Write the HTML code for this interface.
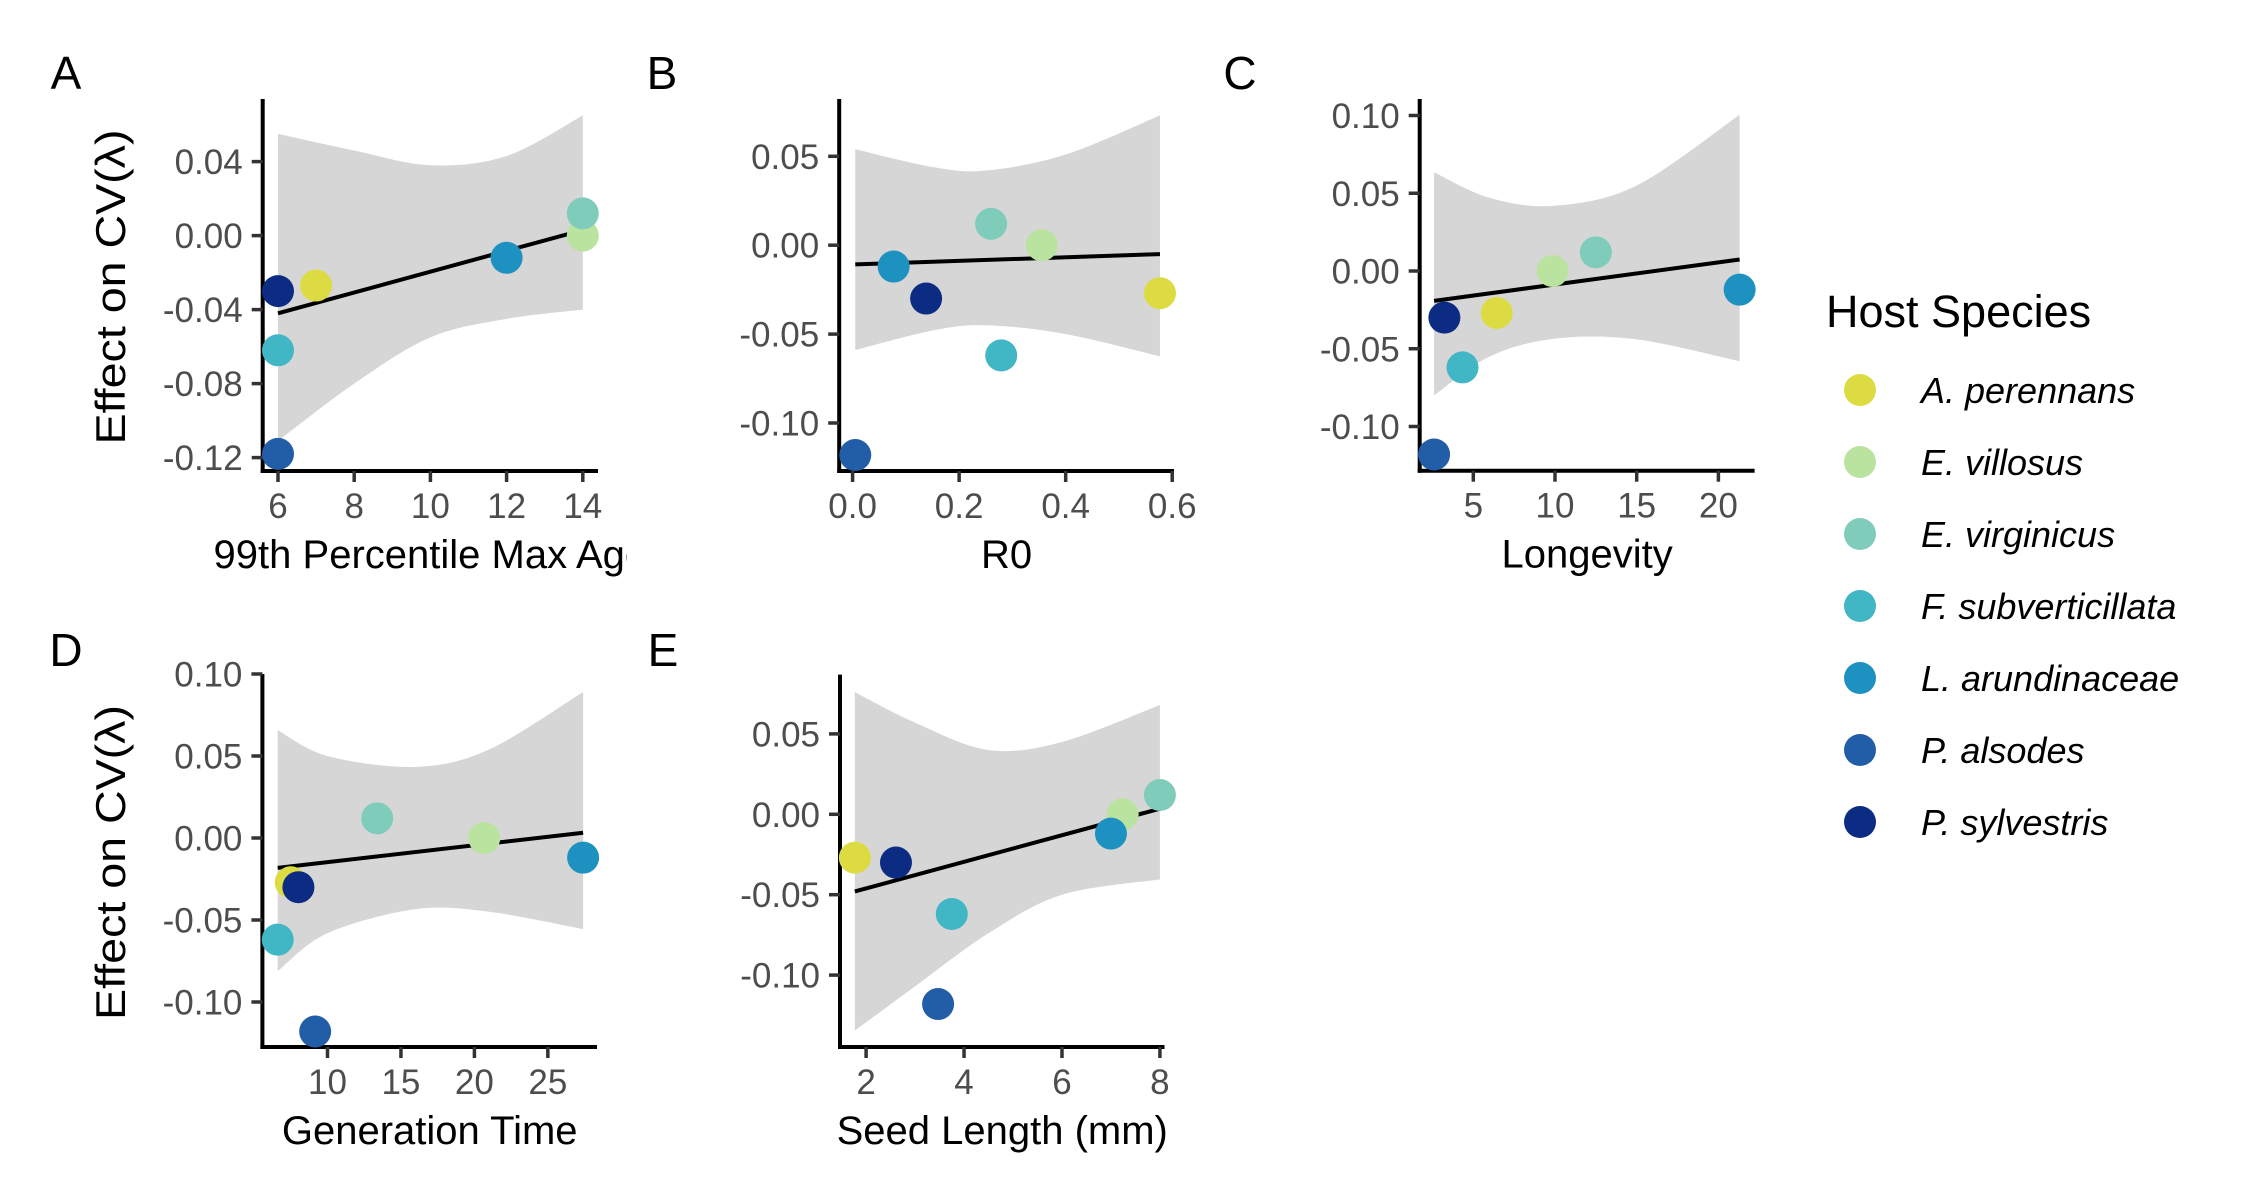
<!DOCTYPE html>
<html><head><meta charset="utf-8"><style>
html,body{margin:0;padding:0;background:#fff;}
svg{display:block;font-family:"Liberation Sans",Arial,sans-serif;}
</style></head><body>
<svg id="fig" xmlns="http://www.w3.org/2000/svg" width="2250" height="1200" viewBox="0 0 2250 1200">
<rect width="2250" height="1200" fill="#fff"/>
<defs><clipPath id="clipA"><rect x="0" y="480" width="627" height="120"/></clipPath></defs>
</svg>
<script>
// ---- shared data ----
const species = ["A. perennans","E. villosus","E. virginicus","F. subverticillata","L. arundinaceae","P. alsodes","P. sylvestris"];
const speciesColors = ["#dcdc42","#bbe3a0","#80ccbb","#41b6c4","#1d91c0","#225ea8","#0c2c84"];
const effectVals = [-0.027, 0.000, 0.012, -0.062, -0.012, -0.118, -0.030];

// Panel A: 99th percentile max age
const xValsA = [7, 14, 14, 6, 12, 6, 6];
const fitA = [-0.042, 0.003];            // fitted y at ribbon ends
const ribXA = [6, 8, 10, 12, 14];
const ribUpA = [0.055, 0.046, 0.038, 0.043, 0.065];
const ribLoA = [-0.111, -0.080, -0.055, -0.045, -0.040];
const xTicksA = [6, 8, 10, 12, 14];
const xTickLabelsA = ["6","8","10","12","14"];
const yTicksA = [0.04, 0.00, -0.04, -0.08, -0.12];
const yTickLabelsA = ["0.04","0.00","-0.04","-0.08","-0.12"];

// Panel B: R0
const xValsB = [0.577, 0.355, 0.26, 0.279, 0.077, 0.005, 0.138];
const fitB = [-0.0108, -0.005];
const ribXB = [0.005, 0.15, 0.25, 0.4, 0.577];
const ribUpB = [0.054, 0.044, 0.042, 0.051, 0.073];
const ribLoB = [-0.059, -0.048, -0.045, -0.050, -0.0625];
const xTicksB = [0, 0.2, 0.4, 0.6];
const xTickLabelsB = ["0.0","0.2","0.4","0.6"];
const yTicksB = [0.05, 0.00, -0.05, -0.10];
const yTickLabelsB = ["0.05","0.00","-0.05","-0.10"];

// Panel C: Longevity
const xValsC = [6.43, 9.85, 12.5, 4.34, 21.3, 2.6, 3.23];
const fitC = [-0.0192, 0.0074];
const ribXC = [2.6, 6, 10, 15, 21.3];
const ribUpC = [0.0635, 0.047, 0.042, 0.055, 0.1005];
const ribLoC = [-0.080, -0.055, -0.0435, -0.044, -0.058];
const xTicksC = [5, 10, 15, 20];
const xTickLabelsC = ["5","10","15","20"];
const yTicksC = [0.10, 0.05, 0.00, -0.05, -0.10];
const yTickLabelsC = ["0.10","0.05","0.00","-0.05","-0.10"];

// Panel D: Generation time
const xValsD = [7.5, 20.67, 13.38, 6.61, 27.4, 9.16, 8.02];
const fitD = [-0.0182, 0.0032];
const ribXD = [6.61, 10, 16, 21, 27.4];
const ribUpD = [0.0658, 0.050, 0.0434, 0.054, 0.089];
const ribLoD = [-0.0812, -0.058, -0.0434, -0.045, -0.0555];
const xTicksD = [10, 15, 20, 25];
const xTickLabelsD = ["10","15","20","25"];
const yTicksD = [0.10, 0.05, 0.00, -0.05, -0.10];
const yTickLabelsD = ["0.10","0.05","0.00","-0.05","-0.10"];

// Panel E: Seed length
const xValsE = [1.77, 7.24, 8.0, 3.75, 7.0, 3.47, 2.61];
const fitE = [-0.048, 0.0035];
const ribXE = [1.77, 3, 4.5, 6, 8.0];
const ribUpE = [0.076, 0.057, 0.040, 0.045, 0.068];
const ribLoE = [-0.1345, -0.107, -0.074, -0.050, -0.0405];
const xTicksE = [2, 4, 6, 8];
const xTickLabelsE = ["2","4","6","8"];
const yTicksE = [0.05, 0.00, -0.05, -0.10];
const yTickLabelsE = ["0.05","0.00","-0.05","-0.10"];

const NS = "http://www.w3.org/2000/svg";
const svg = document.getElementById("fig");
function mk(tag, attrs, parent) {
  const e = document.createElementNS(NS, tag);
  for (const k in attrs) e.setAttribute(k, attrs[k]);
  (parent || svg).appendChild(e);
  return e;
}
function smoothPath(pts) {
  let d = "M" + pts[0][0] + "," + pts[0][1];
  for (let i = 0; i < pts.length - 1; i++) {
    const p0 = pts[Math.max(0, i - 1)], p1 = pts[i], p2 = pts[i + 1], p3 = pts[Math.min(pts.length - 1, i + 2)];
    const c1 = [p1[0] + (p2[0] - p0[0]) / 6, p1[1] + (p2[1] - p0[1]) / 6];
    const c2 = [p2[0] - (p3[0] - p1[0]) / 6, p2[1] - (p3[1] - p1[1]) / 6];
    d += " C" + c1[0] + "," + c1[1] + " " + c2[0] + "," + c2[1] + " " + p2[0] + "," + p2[1];
  }
  return d;
}

function panel(key, geo, xs, fit, ribX, ribUp, ribLo, xT, xTL, yT, yTL, xTitle, yTitle) {
  const g = mk("g", {});
  
  
  const sx = v => geo.x0px + (v - geo.x0) * geo.xs;
  const sy = v => geo.y0px - v * geo.ys;
  // ribbon
  const up = ribX.map((x, i) => [sx(x), sy(ribUp[i])]);
  const lo = ribX.map((x, i) => [sx(x), sy(ribLo[i])]).reverse();
  let d = smoothPath(up) + " L" + lo[0][0] + "," + lo[0][1] + smoothPath(lo).slice(smoothPath(lo).indexOf(" ")) + " Z";
  const rib = mk("path", { d: d, fill: "#d6d6d6" }, g);
  
  
  // fit line
  const ln = mk("line", { x1: sx(ribX[0]), y1: sy(fit[0]), x2: sx(ribX[ribX.length - 1]), y2: sy(fit[1]), stroke: "#000", "stroke-width": 4 }, g);
  
  
  // axes
  const ya = mk("line", { x1: geo.ax, y1: geo.top, x2: geo.ax, y2: geo.ay + 2, stroke: "#000", "stroke-width": 4 }, g);
  
  
  const xa = mk("line", { x1: geo.ax - 2, y1: geo.ay, x2: geo.right, y2: geo.ay, stroke: "#000", "stroke-width": 4 }, g);
  
  
  xT.forEach((v, i) => {
    const x = sx(v);
    const t = mk("line", { x1: x, y1: geo.ay, x2: x, y2: geo.ay + 11, stroke: "#333", "stroke-width": 3.5 }, g);
    
    
    const l = mk("text", { x: x, y: geo.ay + 47, "text-anchor": "middle", "font-size": 35, fill: "#4d4d4d" }, g);
    l.textContent = xTL[i];
    
    
  });
  yT.forEach((v, i) => {
    const y = sy(v);
    const t = mk("line", { x1: geo.ax - 11, y1: y, x2: geo.ax, y2: y, stroke: "#333", "stroke-width": 3.5 }, g);
    
    
    const l = mk("text", { x: geo.ax - 20, y: y + 12.5, "text-anchor": "end", "font-size": 35, fill: "#4d4d4d" }, g);
    l.textContent = yTL[i];
    
    
  });
  // points
  xs.forEach((v, i) => {
    const c = mk("circle", { cx: sx(v), cy: sy(effectVals[i]), r: 16, fill: speciesColors[i] }, g);
    
    
  });
  // x title
  const xt = mk("text", { x: (geo.ax + geo.right) / 2, y: geo.ay + 97, "text-anchor": "middle", "font-size": 40, fill: "#000" }, g);
  xt.textContent = xTitle;
  if (key === "A") xt.setAttribute("clip-path", "url(#clipA)");
  
  
  if (yTitle) {
    const cy = (geo.top + geo.ay) / 2 + 2;
    const yt = mk("text", { x: 0, y: 0, transform: "translate(125," + cy + ") rotate(-90)", "text-anchor": "middle", "font-size": 42, fill: "#000", textLength: 315, lengthAdjust: "spacingAndGlyphs" }, g);
    yt.textContent = "Effect on CV(λ)";
    
    
  }
  const pl = mk("text", { x: geo.lx, y: geo.ly, "text-anchor": "middle", "font-size": 46, fill: "#000" }, g);
  pl.textContent = key;
  
  
}

panel("A", { ax: 262.7, top: 99, ay: 471, right: 598, x0: 6, x0px: 278, xs: 38.1, y0px: 235.6, ys: 1850, lx: 66, ly: 89 },
  xValsA, fitA, ribXA, ribUpA, ribLoA, xTicksA, xTickLabelsA, yTicksA, yTickLabelsA, "99th Percentile Max Age", true);
panel("B", { ax: 839.2, top: 99, ay: 471, right: 1174, x0: 0, x0px: 852.6, xs: 532.7, y0px: 245.2, ys: 1778, lx: 662, ly: 89 },
  xValsB, fitB, ribXB, ribUpB, ribLoB, xTicksB, xTickLabelsB, yTicksB, yTickLabelsB, "R0", false);
panel("C", { ax: 1419.7, top: 99, ay: 470.7, right: 1754.6, x0: 5, x0px: 1473.3, xs: 16.34, y0px: 271, ys: 1555, lx: 1240, ly: 89 },
  xValsC, fitC, ribXC, ribUpC, ribLoC, xTicksC, xTickLabelsC, yTicksC, yTickLabelsC, "Longevity", false);
panel("D", { ax: 262.4, top: 674, ay: 1047, right: 597, x0: 10, x0px: 327.5, xs: 14.69, y0px: 838, ys: 1640, lx: 66, ly: 666 },
  xValsD, fitD, ribXD, ribUpD, ribLoD, xTicksD, xTickLabelsD, yTicksD, yTickLabelsD, "Generation Time", true);
panel("E", { ax: 840, top: 674.6, ay: 1047, right: 1164.5, x0: 2, x0px: 866.1, xs: 48.97, y0px: 814.3, ys: 1608, lx: 663, ly: 666 },
  xValsE, fitE, ribXE, ribUpE, ribLoE, xTicksE, xTickLabelsE, yTicksE, yTickLabelsE, "Seed Length (mm)", false);

// legend
const lg = mk("g", {});


const lt = mk("text", { x: 1826, y: 327, "font-size": 45, fill: "#000" }, lg);
lt.textContent = "Host Species";


species.forEach((s, i) => {
  const y = 390 + i * 72;
  const c = mk("circle", { cx: 1860, cy: y, r: 16, fill: speciesColors[i] }, lg);
  
  
  const t = mk("text", { x: 1921, y: y + 13, "font-size": 36, "font-style": "italic", fill: "#000" }, lg);
  t.textContent = s;
  
  
});
</script>
</body></html>
